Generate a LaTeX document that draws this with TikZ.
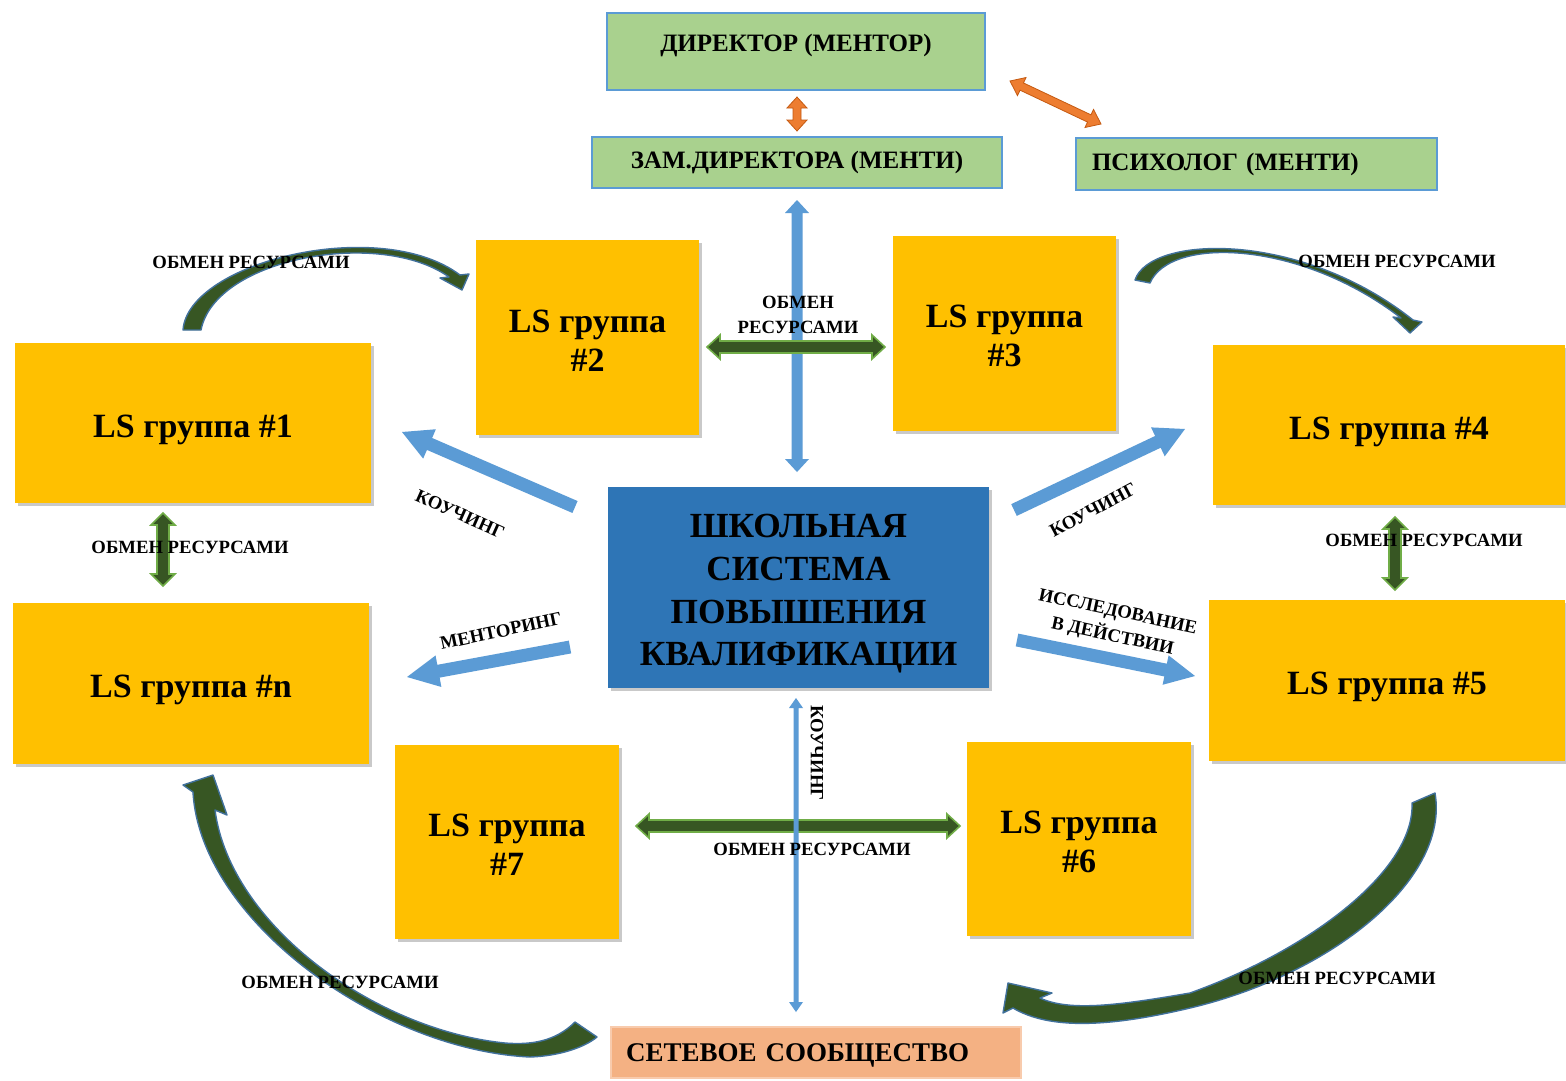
\documentclass[tikz,border=0pt]{standalone}
\usepackage{fontspec}
\setmainfont{Liberation Serif}
\usetikzlibrary{calc,shadows}
\definecolor{gboxfill}{HTML}{A9D18E}
\definecolor{bborder}{HTML}{5B9BD5}
\definecolor{ylw}{HTML}{FFC000}
\definecolor{ctrblue}{HTML}{2E75B6}
\definecolor{netfill}{HTML}{F4B183}
\definecolor{netedge}{HTML}{F8CBAD}
\definecolor{arrblue}{HTML}{5B9BD5}
\definecolor{orng}{HTML}{ED7D31}
\definecolor{orngdark}{HTML}{C55A11}
\definecolor{dkgreen}{HTML}{375623}
\definecolor{ltgreen}{HTML}{70AD47}
\definecolor{curveedge}{HTML}{41719C}

% invisible strut that pushes a node's text down
\newcommand\vpush[1]{\rule{0pt}{#1}}

% single block arrow: style, from, to, shaft half width, head half width, head length
\newcommand\singlearrow[6]{%
  \coordinate (hbtmp) at ($(#3)!#6pt!(#2)$);
  \path[#1] ($(#2)!#4pt!90:(#3)$) -- ($(hbtmp)!#4pt!90:(#3)$) -- ($(hbtmp)!#5pt!90:(#3)$) -- (#3)
    -- ($(hbtmp)!#5pt!-90:(#3)$) -- ($(hbtmp)!#4pt!-90:(#3)$) -- ($(#2)!#4pt!-90:(#3)$) -- cycle;}
% double block arrow
\newcommand\doublearrow[6]{%
  \coordinate (hatmp) at ($(#2)!#6pt!(#3)$);
  \coordinate (hbtmp) at ($(#3)!#6pt!(#2)$);
  \path[#1] (#2) -- ($(hatmp)!#5pt!90:(#3)$) -- ($(hatmp)!#4pt!90:(#3)$) -- ($(hbtmp)!#4pt!90:(#3)$)
    -- ($(hbtmp)!#5pt!90:(#3)$) -- (#3) -- ($(hbtmp)!#5pt!-90:(#3)$) -- ($(hbtmp)!#4pt!-90:(#3)$)
    -- ($(hatmp)!#4pt!-90:(#3)$) -- ($(hatmp)!#5pt!-90:(#3)$) -- cycle;}

\tikzset{
  greenbox/.style={draw=bborder, line width=2pt, fill=gboxfill, inner sep=0pt,
    font=\bfseries\fontsize{25}{29}\selectfont},
  lsbox/.style={fill=ylw, inner sep=0pt, align=center,
    drop shadow={shadow xshift=3pt, shadow yshift=-3pt, opacity=0.35, fill=black!60},
    font=\bfseries\fontsize{34}{39}\selectfont},
  ctrbox/.style={fill=ctrblue, inner sep=0pt, align=center,
    drop shadow={shadow xshift=3pt, shadow yshift=-3pt, opacity=0.35, fill=black!60},
    font=\bfseries\fontsize{35.3}{42.7}\selectfont},
  netbox/.style={draw=netedge, line width=1.5pt, fill=netfill, inner sep=0pt,
    font=\bfseries\fontsize{27}{31}\selectfont},
  lbl/.style={inner sep=0pt, font=\bfseries\fontsize{18.7}{25}\selectfont, align=center},
  bluearr/.style={fill=arrblue},
  orangearr/.style={fill=orng, draw=orngdark, line width=0.8pt},
  greenarr/.style={fill=dkgreen, draw=ltgreen, line width=1.6pt, line join=miter},
  curvearr/.style={fill=dkgreen, draw=curveedge, line width=1.4pt, line join=round},
}

\begin{document}
\begin{tikzpicture}[x=1pt, y=-1pt]
\useasboundingbox[fill=white] (0,0) rectangle (1566,1080);

% ---- boxes ----
\node[greenbox, minimum width=378pt, minimum height=77pt, text height=16pt, text depth=17pt] (dir) at (796,51.5) {ДИРЕКТОР (МЕНТОР)};
\node[greenbox, minimum width=410pt, minimum height=51pt] (zam) at (797,162.5) {ЗАМ.ДИРЕКТОРА (МЕНТИ)};
\node[greenbox, minimum width=361pt, minimum height=52pt, text width=329pt, align=left, inner xsep=16pt] (psy) at (1256.5,164) {ПСИХОЛОГ (МЕНТИ)};

\node[lsbox, minimum width=223pt, minimum height=195pt] (g2) at (587.5,337.5) {\vpush{28pt}LS группа\\\#2};
\node[lsbox, minimum width=223pt, minimum height=195pt] (g3) at (1004.5,333.5) {\vpush{28pt}LS группа\\\#3};
\node[lsbox, minimum width=356pt, minimum height=160pt] (g1) at (193,423) {\vpush{36pt}LS группа \#1};
\node[lsbox, minimum width=352pt, minimum height=160pt] (g4) at (1389,425) {\vpush{36pt}LS группа \#4};
\node[lsbox, minimum width=356pt, minimum height=161pt] (gn) at (191,683.5) {\vpush{36pt}LS группа \#n};
\node[lsbox, minimum width=356pt, minimum height=161pt] (g5) at (1387,680.5) {\vpush{36pt}LS группа \#5};
\node[lsbox, minimum width=224pt, minimum height=194pt] (g7) at (507,842) {\vpush{28pt}LS группа\\\#7};
\node[lsbox, minimum width=224pt, minimum height=194pt] (g6) at (1079,839) {\vpush{28pt}LS группа\\\#6};

\node[ctrbox, minimum width=381pt, minimum height=201pt] (ctr) at (798.5,587.5) {\vpush{36pt}ШКОЛЬНАЯ\\СИСТЕМА\\ПОВЫШЕНИЯ\\КВАЛИФИКАЦИИ};

\node[netbox, minimum width=410pt, minimum height=51pt, text width=380pt, align=left, inner xsep=15pt] (net) at (816,1052.5) {\vpush{24pt}СЕТЕВОЕ СООБЩЕСТВО};

% ---- arrow end coordinates ----
\coordinate (o1a) at (797,97);   \coordinate (o1b) at (797,131);
\coordinate (o2a) at (1010,81);  \coordinate (o2b) at (1101,124);
\coordinate (bv1) at (797,200);  \coordinate (bv2) at (797,472);
\coordinate (gh1) at (707,347);  \coordinate (gh2) at (885,347);
\coordinate (c1t) at (575,507);  \coordinate (c1h) at (402,432);
\coordinate (c4t) at (1014,510); \coordinate (c4h) at (1185,429);
\coordinate (mt) at (570,647);   \coordinate (mh) at (407,677);
\coordinate (it) at (1017,640);  \coordinate (ih) at (1195,676);
\coordinate (gl1) at (163,513);  \coordinate (gl2) at (163,586);
\coordinate (gr1) at (1395,517); \coordinate (gr2) at (1395,590);
\coordinate (gb1) at (636,826);  \coordinate (gb2) at (960,826);
\coordinate (bt1) at (796,698);  \coordinate (bt2) at (796,1012);

% ---- straight arrows ----
\doublearrow{orangearr}{o1a}{o1b}{4}{10}{11}
\doublearrow{orangearr}{o2a}{o2b}{4}{10}{13}
\doublearrow{bluearr}{bv1}{bv2}{5.5}{12}{13}
\doublearrow{greenarr}{gh1}{gh2}{6}{12}{13}
\singlearrow{bluearr}{c1t}{c1h}{6.5}{16}{30}
\singlearrow{bluearr}{c4t}{c4h}{6.5}{16}{30}
\singlearrow{bluearr}{mt}{mh}{6.5}{16}{32}
\singlearrow{bluearr}{it}{ih}{6.5}{15}{30}
\doublearrow{greenarr}{gl1}{gl2}{6}{12}{12}
\doublearrow{greenarr}{gr1}{gr2}{6}{12}{12}
\doublearrow{greenarr}{gb1}{gb2}{6}{12}{13}
\doublearrow{bluearr}{bt1}{bt2}{2.5}{7}{10}

% ---- curved arrows ----
\path[curvearr] (183,330) .. controls (188,262) and (380,215) .. (460,275) -- (469,274) -- (462,290) -- (440,278)
  -- (449,277) .. controls (380,228) and (215,258) .. (201,330) -- cycle;
\path[curvearr] (1135,280) .. controls (1150,235) and (1300,230) .. (1413,320) -- (1422,322) -- (1410,333) -- (1393,317)
  -- (1401,318) .. controls (1300,240) and (1170,236) .. (1150,283) -- cycle;
\path[curvearr] (597,1037) -- (575,1022) .. controls (555,1042) and (530,1045) .. (505,1043)
  .. controls (375,1030) and (230,925) .. (215,810) -- (227,815) -- (213,775) -- (183,785)
  -- (193,792) .. controls (200,920) and (380,1050) .. (530,1057) .. controls (560,1056) and (585,1047) .. (597,1037) -- cycle;
\path[curvearr] (1435,793) .. controls (1450,880) and (1330,975) .. (1190,1008) .. controls (1110,1027) and (1050,1030) .. (1013,1008)
  -- (1003,1013) -- (1008,983) -- (1052,993) -- (1040,998) .. controls (1070,1012) and (1120,1005) .. (1190,993)
  .. controls (1310,950) and (1415,870) .. (1412,803) -- cycle;

% ---- labels ----
\node[lbl] (l1) at (251,262) {ОБМЕН РЕСУРСАМИ};
\node[lbl] (l2) at (1397,261) {ОБМЕН РЕСУРСАМИ};
\node[lbl] (l3) at (798,315) {ОБМЕН\\РЕСУРСАМИ};
\node[lbl] (l4) at (190,547) {ОБМЕН РЕСУРСАМИ};
\node[lbl] (l5) at (1424,540) {ОБМЕН РЕСУРСАМИ};
\node[lbl] (l6) at (812,849) {ОБМЕН РЕСУРСАМИ};
\node[lbl] (l7) at (340,982) {ОБМЕН РЕСУРСАМИ};
\node[lbl] (l8) at (1337,978) {ОБМЕН РЕСУРСАМИ};
\node[lbl, rotate=-24] (k1) at (460,514) {КОУЧИНГ};
\node[lbl, rotate=28] (k2) at (1093,510) {КОУЧИНГ};
\node[lbl, rotate=12] (m1) at (501,631) {МЕНТОРИНГ};
\node[lbl, rotate=-12] (r1) at (1115,625) {ИССЛЕДОВАНИЕ\\В ДЕЙСТВИИ};
\node[lbl, rotate=-90] (k3) at (817,753) {КОУЧИНГ};
\end{tikzpicture}
\end{document}
